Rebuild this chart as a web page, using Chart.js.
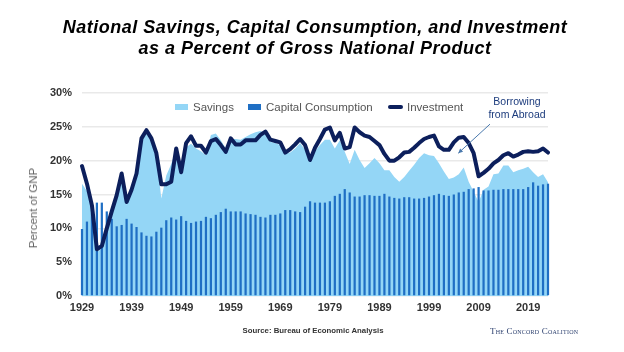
<!DOCTYPE html>
<html>
<head>
<meta charset="utf-8">
<script src="https://cdn.jsdelivr.net/npm/chart.js@4.4.0/dist/chart.umd.min.js"></script>
<style>
	html, body { margin: 0; padding: 0; background: #fff; }
	.nsav { position: relative; width: 624px; height: 352px; overflow: hidden;
		font-family: "Liberation Sans", Arial, Helvetica, sans-serif; }
	.nsav canvas { position: absolute; left: 0; top: 0; }
	.nsav-title { position: absolute; left: 3px; top: 17px; width: 624px; text-align: center;
		font-size: 18px; line-height: 21px; font-weight: bold; font-style: italic; color: #000; letter-spacing: .5px; }
	.nsav-ytitle { position: absolute; left: 33px; top: 208px; transform: translate(-50%, -50%) rotate(-90deg);
		white-space: nowrap; font-size: 11.5px; color: #666; }
	.nsav-legend span { position: absolute; top: 100px; line-height: 14px; font-size: 11.5px; color: #555; white-space: nowrap; }
	.nsav-legend i { position: absolute; display: block; }
	.nsav-note { position: absolute; left: 467px; top: 95px; width: 100px; text-align: center;
		font-size: 10.5px; line-height: 13px; color: #1d3c7d; }
	.nsav-source { position: absolute; left: 0; top: 326px; width: 626px; text-align: center;
		font-size: 7.8px; font-weight: bold; color: #333; }
	.nsav-brand { position: absolute; left: 490px; top: 326px; font-family: "Liberation Serif", "Times New Roman", serif;
		font-size: 9px; letter-spacing: .2px; font-variant: small-caps; color: #2b3f6e; white-space: nowrap; }
</style>
</head>
<body>
<div class="nsav">
	<canvas id="nsav-chart" width="624" height="352"></canvas>
	<div class="nsav-title">National Savings, Capital Consumption, and Investment<br>as a Percent of Gross National Product</div>
	<div class="nsav-ytitle">Percent of GNP</div>
	<div class="nsav-legend">
		<i style="left:175px;top:104px;width:13px;height:6px;background:#94d6f6"></i>
		<span style="left:193px">Savings</span>
		<i style="left:248px;top:104px;width:13px;height:6px;background:#1f6fc4"></i>
		<span style="left:266px">Capital Consumption</span>
		<i style="left:388px;top:105px;width:15px;height:4px;border-radius:2px;background:#0c1f5c"></i>
		<span style="left:407px">Investment</span>
	</div>
	<div class="nsav-note">Borrowing<br>from Abroad</div>
	<div class="nsav-source">Source: Bureau of Economic Analysis</div>
	<div class="nsav-brand">The Concord Coalition</div>
</div>
<script>
// --- data (percent of GNP) ----------------------------------------------------

const YEARS = [];
for (let y = 1929; y <= 2023; y++) YEARS.push(y);

const TICK_YEARS = [1929, 1939, 1949, 1959, 1969, 1979, 1989, 1999, 2009, 2019];

const SAVINGS = [
	16.6, 15.5, 12.8, 6.5, 7.0, 9.5, 12.0, 14.5, 17.8, 13.5,
	15.3, 17.8, 23.0, 24.0, 22.8, 21.0, 14.4, 17.8, 19.5, 21.8,
	18.6, 22.0, 22.5, 21.8, 21.4, 20.8, 23.8, 24.0, 23.0, 21.8,
	23.2, 23.2, 23.1, 23.5, 23.9, 24.2, 24.4, 24.0, 22.8, 22.6,
	22.3, 21.1, 21.2, 21.8, 22.6, 21.6, 20.6, 21.4, 22.3, 23.1,
	23.1, 21.8, 23.0, 21.3, 19.5, 21.6, 20.1, 18.9, 19.6, 20.4,
	19.6, 18.6, 18.6, 17.6, 16.9, 17.6, 18.5, 19.4, 20.4, 21.1,
	20.8, 20.7, 19.6, 18.4, 17.3, 17.5, 18.0, 19.0, 16.9, 15.4,
	13.9, 15.7, 16.2, 18.0, 18.1, 19.3, 19.3, 18.3, 18.6, 18.8,
	19.1, 18.3, 17.6, 18.0, 16.8
];

const CAPITAL_CONSUMPTION = [
	9.9, 11.0, 12.2, 13.8, 13.8, 12.5, 11.4, 10.3, 10.5, 11.4,
	10.7, 10.2, 9.4, 8.9, 8.8, 9.5, 10.1, 11.2, 11.6, 11.3,
	11.8, 11.1, 10.8, 11.0, 11.1, 11.7, 11.5, 12.0, 12.4, 12.9,
	12.5, 12.5, 12.5, 12.2, 12.1, 12.0, 11.7, 11.6, 12.0, 12.0,
	12.2, 12.7, 12.7, 12.5, 12.4, 13.2, 14.0, 13.8, 13.8, 13.8,
	14.0, 14.8, 15.1, 15.8, 15.3, 14.7, 14.7, 14.9, 14.9, 14.8,
	14.8, 15.1, 14.7, 14.5, 14.4, 14.6, 14.6, 14.4, 14.4, 14.5,
	14.7, 14.9, 15.1, 14.9, 14.8, 15.0, 15.3, 15.4, 15.8, 15.9,
	16.1, 15.6, 15.6, 15.7, 15.7, 15.8, 15.8, 15.8, 15.8, 15.8,
	16.1, 16.8, 16.3, 16.5, 16.6
];

const INVESTMENT = [
	19.2, 16.6, 13.4, 6.9, 7.4, 10.0, 12.5, 14.9, 18.1, 13.9,
	15.7, 18.1, 23.3, 24.5, 23.3, 21.1, 16.5, 16.5, 16.9, 21.8,
	18.3, 22.6, 23.6, 22.2, 22.2, 21.2, 22.9, 23.2, 22.3, 21.3,
	23.3, 22.4, 22.4, 23.0, 23.0, 23.0, 23.8, 24.3, 23.1, 22.9,
	22.7, 21.2, 21.7, 22.4, 23.2, 22.3, 20.1, 21.9, 23.2, 24.6,
	24.9, 23.0, 24.1, 21.8, 22.0, 24.9, 24.2, 23.7, 23.5, 22.9,
	22.3, 21.0, 20.0, 20.0, 20.5, 21.2, 21.3, 21.9, 22.6, 23.2,
	23.5, 23.7, 22.1, 21.6, 21.6, 22.7, 23.4, 23.5, 22.6, 21.1,
	17.7, 18.2, 18.8, 19.6, 20.1, 20.8, 21.1, 20.6, 20.9, 21.3,
	21.4, 21.3, 21.4, 21.8, 21.2
];

// annotation arrow, in (year, percent)
const ARROW_FROM = [2011.3, 25.4];
const ARROW_TO   = [2004.9, 21.1];

// --- arrow for the "Borrowing from Abroad" note --------------------------------

const borrowArrow = {
	id: 'borrowArrow',
	afterDatasetsDraw(chart) {
		const xs = chart.scales.x, ys = chart.scales.y, ctx = chart.ctx;
		const x1 = xs.getPixelForValue(ARROW_FROM[0] - YEARS[0]), y1 = ys.getPixelForValue(ARROW_FROM[1]);
		const x2 = xs.getPixelForValue(ARROW_TO[0] - YEARS[0]),   y2 = ys.getPixelForValue(ARROW_TO[1]);
		const a = Math.atan2(y2 - y1, x2 - x1);
		ctx.save();
		ctx.strokeStyle = ctx.fillStyle = '#4a79ad';
		ctx.lineWidth = 1;
		ctx.beginPath(); ctx.moveTo(x1, y1); ctx.lineTo(x2, y2); ctx.stroke();
		ctx.beginPath();
		ctx.moveTo(x2, y2);
		ctx.lineTo(x2 - 5 * Math.cos(a - .45), y2 - 5 * Math.sin(a - .45));
		ctx.lineTo(x2 - 5 * Math.cos(a + .45), y2 - 5 * Math.sin(a + .45));
		ctx.closePath(); ctx.fill();
		ctx.restore();
	}
};

// --- chart ----------------------------------------------------------------------

const tickFont = { family: '"Liberation Sans", Arial, sans-serif', size: 11, weight: 'bold' };

new Chart(document.getElementById('nsav-chart').getContext('2d'), {
	data: {
		labels: YEARS,
		datasets: [
			{ type: 'line', label: 'Investment', data: INVESTMENT, order: 0,
			  borderColor: '#0c1f5c', borderWidth: 4, borderJoinStyle: 'round', borderCapStyle: 'round',
			  pointRadius: 0, tension: 0, fill: false },
			{ type: 'bar', label: 'Capital Consumption', data: CAPITAL_CONSUMPTION, order: 1,
			  backgroundColor: '#1f6fc4', borderWidth: 0, barPercentage: .45, categoryPercentage: 1, clip: false },
			{ type: 'line', label: 'Savings', data: SAVINGS, order: 2,
			  borderWidth: 0, borderColor: 'rgba(0,0,0,0)', backgroundColor: '#94d6f6',
			  pointRadius: 0, tension: 0, fill: 'origin' }
		]
	},
	options: {
		responsive: false,
		devicePixelRatio: 1,
		animation: false,
		layout: { padding: { top: 93, right: 76, bottom: 30, left: 0 } },
		plugins: { legend: { display: false }, tooltip: { enabled: false }, title: { display: false } },
		scales: {
			x: {
				type: 'category',
				offset: false,
				grid: { display: false, drawTicks: false },
				border: { display: false },
				afterFit: s => { s.height = 26; },
				ticks: {
					autoSkip: false, maxRotation: 0, minRotation: 0, padding: 5,
					color: '#333', font: tickFont,
					callback: (v, i) => TICK_YEARS.includes(YEARS[i]) ? String(YEARS[i]) : ''
				}
			},
			y: {
				min: 0, max: 30,
				grid: { color: '#e9e9e9', lineWidth: 1.5, drawTicks: false },
				border: { display: false },
				afterFit: s => { s.width = 82; },
				ticks: { stepSize: 5, padding: 10, color: '#333', font: tickFont, callback: v => v + '%' }
			}
		}
	},
	plugins: [borrowArrow]
});
</script>
</body>
</html>
